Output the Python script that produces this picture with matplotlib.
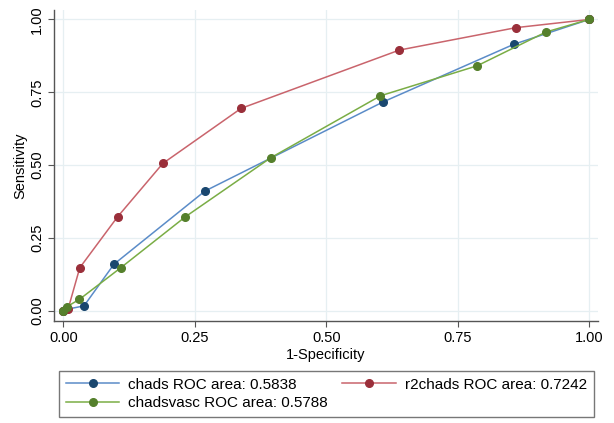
import matplotlib
matplotlib.use("Agg")
import matplotlib.pyplot as plt

plt.rcParams['font.family'] = ['Liberation Sans', 'DejaVu Sans']

# ROC points (1-specificity, sensitivity)
chads_x = [0.0, 0.005, 0.039, 0.096, 0.269, 0.608, 0.857, 1.0]
chads_y = [0.0, 0.005, 0.017, 0.160, 0.411, 0.717, 0.915, 1.0]

r2chads_x = [0.0, 0.009, 0.031, 0.103, 0.189, 0.338, 0.639, 0.861, 1.0]
r2chads_y = [0.0, 0.008, 0.148, 0.323, 0.506, 0.695, 0.895, 0.972, 1.0]

chadsvasc_x = [0.0, 0.006, 0.030, 0.109, 0.232, 0.394, 0.603, 0.787, 0.918, 1.0]
chadsvasc_y = [0.0, 0.014, 0.039, 0.148, 0.323, 0.525, 0.738, 0.841, 0.957, 1.0]

labels = ['chads ROC area: 0.5838', 'r2chads ROC area: 0.7242',
          'chadsvasc ROC area: 0.5788']
ticks = [0.0, 0.25, 0.5, 0.75, 1.0]

fig = plt.figure(figsize=(6.14, 4.23), dpi=100)
ax = fig.add_axes([0.088, 0.241, 0.886, 0.735])

h1, = ax.plot(chads_x, chads_y, color='#5b8cc8', lw=1.1, marker='o', ms=5.5,
              mfc='#1a476f', mec='#1a476f', label=labels[0])
h2, = ax.plot(r2chads_x, r2chads_y, color='#c9646c', lw=1.1, marker='o', ms=5.5,
              mfc='#9a2f3a', mec='#9a2f3a', label=labels[1])
h3, = ax.plot(chadsvasc_x, chadsvasc_y, color='#7aad45', lw=1.1, marker='o', ms=5.5,
              mfc='#55802c', mec='#55802c', label=labels[2])

ax.set_xlim(-0.018, 1.017)
ax.set_ylim(-0.035, 1.032)
ax.set_xticks(ticks)
ax.set_yticks(ticks)
ax.set_xticklabels([f'{t:.2f}' for t in ticks], fontsize=10.5)
ax.set_yticklabels([f'{t:.2f}' for t in ticks], fontsize=10.5, rotation=90, va='center')
ax.grid(True, color='#e6eff2', lw=0.9)
ax.set_axisbelow(True)
for s in ['top', 'right']:
    ax.spines[s].set_visible(False)
for s in ['left', 'bottom']:
    ax.spines[s].set_color('#555555')
    ax.spines[s].set_linewidth(1.0)
ax.tick_params(direction='out', length=4, color='#555555', pad=3)
ax.set_xlabel('1-Specificity', fontsize=10.5, labelpad=2)
ax.set_ylabel('Sensitivity', fontsize=10.5, labelpad=2)

# legend fills column-wise, so order handles to get chads | r2chads on row one
fig.legend([h1, h3, h2], [labels[0], labels[2], labels[1]], ncol=2,
           loc='upper left', bbox_to_anchor=(0.096, 0.0, 0.871, 0.123),
           mode='expand', borderaxespad=0, fancybox=False, edgecolor='#777777',
           fontsize=11, handlelength=3.5, handletextpad=0.6, columnspacing=1.5,
           labelspacing=0.3, borderpad=0.45, framealpha=1)

fig.savefig('out.png', dpi=100)
